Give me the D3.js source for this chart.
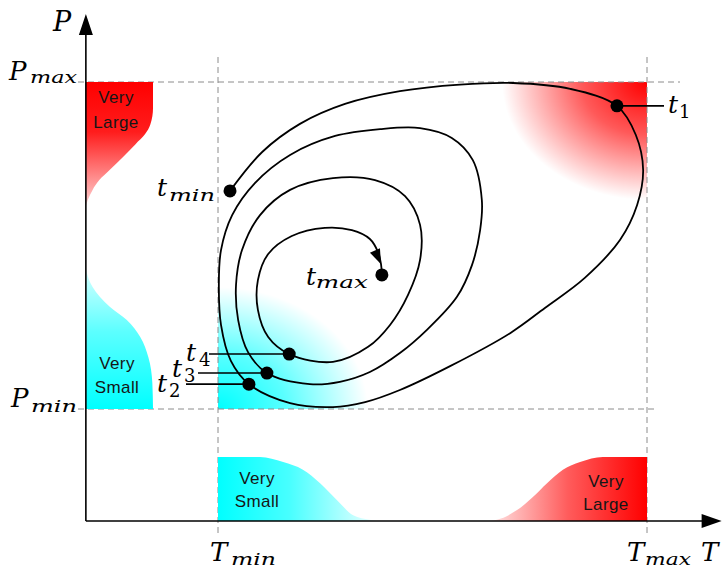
<!DOCTYPE html>
<html>
<head>
<meta charset="utf-8">
<script src="https://cdn.jsdelivr.net/npm/d3@7"></script>
<style>
  body { margin: 0; background: #fff; }
</style>
</head>
<body>
<div id="chart"></div>
<script>
// trajectory of (T, P), both in % of [min, max]
var spiralT = [2.8, 10.3, 19.1, 29.6, 42.4, 56.4, 68.8, 82.1, 93.0, 97.4, 99.1, 97.7, 93.7, 85.5, 76.2, 68.1, 54.1, 42.4, 34.3, 26.8, 16.8, 7.2,
	3.0, 0.7, 0.2, 0.7, 3.3, 8.6, 16.8, 27.3, 37.8, 47.1, 54.5, 59.4, 61.5, 61.1, 59.2, 55.7, 48.7, 42.4, 35.4, 28.4, 21.4, 11.4,
	7.0, 4.7, 4.2, 5.6, 9.8, 16.8, 26.8, 36.6, 43.6, 47.1, 47.1, 44.3, 40.1, 35.0, 26.8, 16.6,
	11.7, 9.3, 9.3, 11.7, 17.2, 24.9, 31.2, 35.4, 37.3, 38.0, 38.2];
var spiralP = [66.7, 78.6, 87.2, 93.3, 97.2, 99.2, 99.7, 97.9, 92.7, 83.8, 73.1, 62.4, 51.7, 40.1, 30.9, 23.2, 13.1, 5.8, 2.1, 0.6, 1.8, 7.6,
	14.7, 25.7, 37.9, 48.6, 59.3, 69.1, 77.7, 83.5, 85.6, 85.9, 82.9, 76.1, 63.9, 54.7, 44.0, 34.3, 24.2, 17.1, 11.3, 8.3, 7.6, 11.0,
	17.4, 27.2, 37.9, 48.6, 59.3, 67.0, 70.6, 70.0, 65.1, 56.3, 45.6, 34.9, 25.7, 19.0, 14.4, 16.8,
	22.0, 30.3, 39.4, 47.4, 52.9, 55.4, 54.7, 52.0, 48.0, 44.3, 41.0];

// labelled instants: index into the trajectory
var markerSub = ["min", "1", "2", "3", "4", "max"];
var markerIdx = [0, 8, 21, 43, 59, 70];

// fuzzy sets on the axes (value, membership)
var largeP_P = [100, 92, 87, 84, 81, 77, 73, 70, 67, 64, 62];
var largeP_mu = [1, 1, 0.96, 0.88, 0.74, 0.55, 0.35, 0.2, 0.1, 0.03, 0];
var smallP_P = [43, 41.6, 37.3, 31.2, 27.2, 22.0, 15.9, 8.0, 0];
var smallP_mu = [0, 0.015, 0.10, 0.36, 0.61, 0.81, 0.93, 0.99, 1];
var smallT_T = [0, 9.8, 15.2, 19.8, 23.8, 27.7, 31.5, 35.4, 37];
var smallT_mu = [1, 1, 0.92, 0.80, 0.59, 0.33, 0.09, 0.02, 0];
var largeT_T = [63, 65.0, 69.7, 73.4, 76.7, 80.4, 84.4, 89.7, 100];
var largeT_mu = [0, 0.02, 0.17, 0.375, 0.59, 0.80, 0.92, 1, 1];

var axisT = [-30.8, 117.4];
var axisP = [-34.25, 120.8];

(function(){
	var width = 727, height = 569;

	var svg = d3.select("#chart").append("svg")
		.attr("width", width)
		.attr("height", height);

	var x = d3.scaleLinear().domain([0, 100]).range([218, 647]);
	var y = d3.scaleLinear().domain([0, 100]).range([409, 82]);
	// membership -> pixel offset from the axis
	var muP = d3.scaleLinear().domain([0, 1]).range([x(axisT[0]), 153]);
	var muT = d3.scaleLinear().domain([0, 1]).range([y(axisP[0]), 457]);

	var defs = svg.append("defs");

	function linGrad(id, vertical, stops){
		var g = defs.append("linearGradient").attr("id", id)
			.attr("x1", 0).attr("y1", 0)
			.attr("x2", vertical ? 0 : 1).attr("y2", vertical ? 1 : 0);
		stops.forEach(function(s){
			g.append("stop").attr("offset", s[0]).attr("stop-color", s[1]);
		});
	}
	linGrad("gLargeP", true, [[0, "#ff0000"], [0.4, "#ff1c1c"], [1, "#ffd2d2"]]);
	linGrad("gSmallP", true, [[0, "#d8ffff"], [0.45, "#5cffff"], [1, "#00ffff"]]);
	linGrad("gSmallT", false, [[0, "#00ffff"], [0.45, "#48ffff"], [1, "#eeffff"]]);
	linGrad("gLargeT", false, [[0, "#ffe8e8"], [0.5, "#ff5c5c"], [1, "#ff0000"]]);

	function radGrad(id, color){
		var g = defs.append("radialGradient").attr("id", id);
		g.append("stop").attr("offset", 0).attr("stop-color", color).attr("stop-opacity", 1);
		g.append("stop").attr("offset", 0.45).attr("stop-color", color).attr("stop-opacity", 0.65);
		g.append("stop").attr("offset", 1).attr("stop-color", color).attr("stop-opacity", 0);
	}
	radGrad("rRed", "#ff0000");
	radGrad("rCyan", "#00ffff");

	defs.append("clipPath").attr("id", "plotClip")
		.append("rect")
		.attr("x", x(0)).attr("y", y(100))
		.attr("width", x(100) - x(0)).attr("height", y(0) - y(100));

	// corner shading
	var corners = svg.append("g").attr("clip-path", "url(#plotClip)");
	corners.append("ellipse")
		.attr("cx", x(100)).attr("cy", y(100))
		.attr("rx", 145).attr("ry", 118)
		.style("fill", "url(#rRed)");
	corners.append("ellipse")
		.attr("cx", x(0)).attr("cy", y(0))
		.attr("rx", 150).attr("ry", 122)
		.style("fill", "url(#rCyan)");

	// dashed guides
	var guides = svg.append("g")
		.attr("stroke", "#8c8c8c")
		.attr("stroke-width", 1)
		.attr("stroke-dasharray", "6,4");
	guides.append("line").attr("x1", 78).attr("x2", 680).attr("y1", y(100)).attr("y2", y(100));
	guides.append("line").attr("x1", 78).attr("x2", 655).attr("y1", y(0)).attr("y2", y(0));
	guides.append("line").attr("x1", x(0)).attr("x2", x(0)).attr("y1", 57).attr("y2", 536);
	guides.append("line").attr("x1", x(100)).attr("x2", x(100)).attr("y1", 57).attr("y2", 536);

	// fuzzy sets
	var areaP = d3.area()
		.y(function(d){ return y(d[0]); })
		.x0(muP(0))
		.x1(function(d){ return muP(d[1]); })
		.curve(d3.curveMonotoneY);
	var areaT = d3.area()
		.x(function(d){ return x(d[0]); })
		.y0(muT(0))
		.y1(function(d){ return muT(d[1]); })
		.curve(d3.curveMonotoneX);

	svg.append("path").attr("d", areaP(d3.zip(largeP_P, largeP_mu))).style("fill", "url(#gLargeP)");
	svg.append("path").attr("d", areaP(d3.zip(smallP_P, smallP_mu))).style("fill", "url(#gSmallP)");
	svg.append("path").attr("d", areaT(d3.zip(smallT_T, smallT_mu))).style("fill", "url(#gSmallT)");
	svg.append("path").attr("d", areaT(d3.zip(largeT_T, largeT_mu))).style("fill", "url(#gLargeT)");

	function setLabel(cx, y1, y2, word){
		[["Very", y1], [word, y2]].forEach(function(t){
			svg.append("text")
				.attr("x", cx).attr("y", t[1])
				.attr("text-anchor", "middle")
				.attr("font-family", "Liberation Sans, Arial, sans-serif")
				.attr("font-size", 17)
				.attr("letter-spacing", 0.4)
				.attr("fill", "#161616")
				.text(t[0]);
		});
	}
	setLabel(116, 103, 128, "Large");
	setLabel(117, 369, 393, "Small");
	setLabel(257, 484, 507, "Small");
	setLabel(606, 487, 510, "Large");

	// axes
	var axes = svg.append("g");
	axes.append("line")
		.attr("x1", x(axisT[0])).attr("x2", x(axisT[1]) - 10)
		.attr("y1", y(axisP[0])).attr("y2", y(axisP[0]))
		.attr("stroke", "#000").attr("stroke-width", 1.6);
	axes.append("line")
		.attr("x1", x(axisT[0])).attr("x2", x(axisT[0]))
		.attr("y1", y(axisP[0])).attr("y2", y(axisP[1]) + 10)
		.attr("stroke", "#000").attr("stroke-width", 1.6);
	var ox = x(axisT[0]), oy = y(axisP[0]), tx = x(axisT[1]), ty = y(axisP[1]);
	axes.append("path")
		.attr("d", "M" + tx + "," + oy + "L" + (tx - 20) + "," + (oy - 7) + "L" + (tx - 20) + "," + (oy + 7) + "Z")
		.attr("fill", "#000");
	axes.append("path")
		.attr("d", "M" + ox + "," + ty + "L" + (ox - 7) + "," + (ty + 21) + "L" + (ox + 7) + "," + (ty + 21) + "Z")
		.attr("fill", "#000");

	// trajectory
	var pts = d3.zip(spiralT, spiralP);
	var line = d3.line()
		.x(function(d){ return x(d[0]); })
		.y(function(d){ return y(d[1]); })
		.curve(d3.curveCatmullRom.alpha(0.5));
	svg.append("path")
		.attr("d", line(pts))
		.attr("fill", "none")
		.attr("stroke", "#000")
		.attr("stroke-width", 1.8);

	// arrow head just before t_max
	var a = pts[67], b = pts[69];
	var ang = Math.atan2(y(b[1]) - y(a[1]), x(b[0]) - x(a[0])) * 180 / Math.PI;
	svg.append("path")
		.attr("d", "M0,0L-15,-5.5L-15,5.5Z")
		.attr("fill", "#000")
		.attr("transform", "translate(" + x(b[0]) + "," + y(b[1]) + ") rotate(" + ang + ")");

	// leader lines for t1..t4
	var leaderEnd = {1: 664, 2: 186, 3: 198, 4: 209};
	markerIdx.forEach(function(idx, i){
		var s = markerSub[i];
		if (leaderEnd[s] === undefined) return;
		var p = pts[idx];
		svg.append("line")
			.attr("x1", x(p[0])).attr("x2", leaderEnd[s])
			.attr("y1", y(p[1])).attr("y2", y(p[1]))
			.attr("stroke", "#000").attr("stroke-width", 1.6);
	});

	svg.append("g").selectAll("circle")
		.data(markerIdx)
		.enter().append("circle")
		.attr("cx", function(i){ return x(pts[i][0]); })
		.attr("cy", function(i){ return y(pts[i][1]); })
		.attr("r", 6.5)
		.attr("fill", "#000");

	// math labels: base letter + subscript
	var serif = "DejaVu Serif, Liberation Serif, serif";
	function mathLabel(base, sub, bx, by, bsize, sx, sy, sw){
		svg.append("text")
			.attr("x", bx).attr("y", by)
			.attr("font-family", serif).attr("font-style", "italic")
			.attr("font-size", bsize).attr("fill", "#000")
			.text(base);
		if (!sub) return;
		var upright = /^[0-9]$/.test(sub);
		var t = svg.append("text")
			.attr("x", sx).attr("y", sy)
			.attr("font-family", serif)
			.attr("font-style", upright ? "normal" : "italic")
			.attr("font-size", upright ? 18 : 17)
			.attr("fill", "#000")
			.text(sub);
		if (sw) t.attr("textLength", sw).attr("lengthAdjust", "spacingAndGlyphs");
	}

	mathLabel("P", null, 53, 31, 27);
	mathLabel("P", "max", 9, y(100) - 2, 26, 30, y(100) + 1, 47);
	mathLabel("P", "min", 11, y(0) - 2, 26, 31, y(0) + 3, 46);
	mathLabel("T", "min", x(0) - 8, 561, 26, x(0) + 13, 565, 45);
	mathLabel("T", "max", x(100) - 20, 561, 26, x(100) - 2, 565, 46);
	mathLabel("T", null, 701, 561, 26);

	var p;
	p = pts[markerIdx[0]];
	mathLabel("t", "min", x(p[0]) - 73, y(p[1]) + 5, 25, x(p[0]) - 61, y(p[1]) + 10, 46);
	p = pts[markerIdx[1]];
	mathLabel("t", "1", 668, y(p[1]) + 7, 25, 679, y(p[1]) + 12);
	mathLabel("t", "2", 157, y(pts[markerIdx[2]][1]) + 8, 25, 169, y(pts[markerIdx[2]][1]) + 13);
	mathLabel("t", "3", 172, y(pts[markerIdx[3]][1]) + 4, 25, 184, y(pts[markerIdx[3]][1]) + 9);
	mathLabel("t", "4", 186, y(pts[markerIdx[4]][1]) + 7, 25, 199, y(pts[markerIdx[4]][1]) + 12);
	p = pts[markerIdx[5]];
	mathLabel("t", "max", x(p[0]) - 76, y(p[1]) + 10, 25, x(p[0]) - 66, y(p[1]) + 13, 52);
})();
</script>
</body>
</html>
